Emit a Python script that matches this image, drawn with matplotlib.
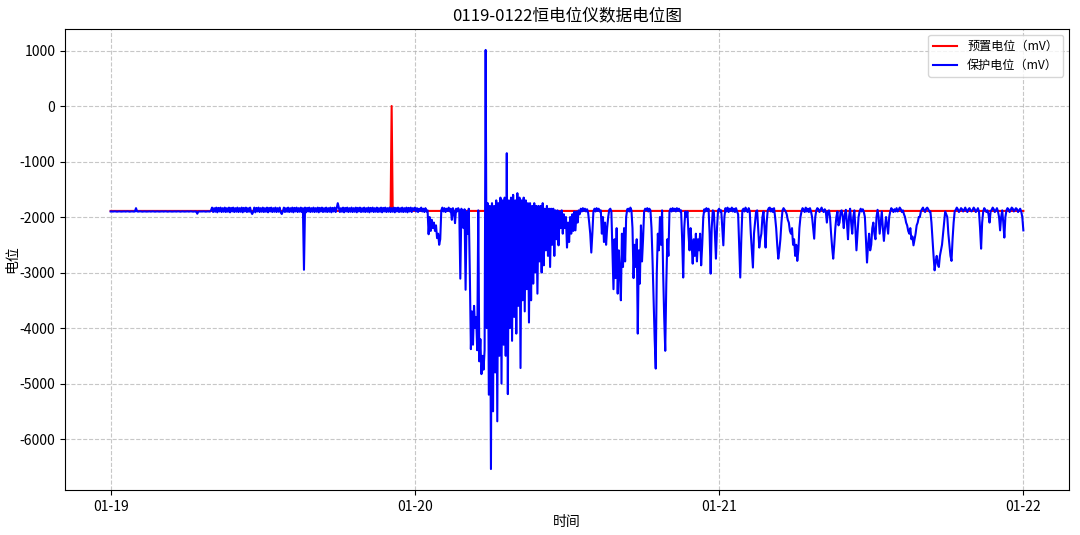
import numpy as np
import pandas as pd
import matplotlib
matplotlib.use("Agg")
import matplotlib.pyplot as plt
import matplotlib.dates as mdates

plt.rcParams['font.family'] = ['Noto Sans CJK SC', 'DejaVu Sans']
plt.rcParams['axes.unicode_minus'] = False

title = "0119-0122恒电位仪数据电位图"
xlabel = "时间"
ylabel = "电位"
label_preset = "预置电位（mV）"
label_protect = "保护电位（mV）"

day1_start = "2024-01-19 00:00"
day2_start = "2024-01-20 00:00"
day3_start = "2024-01-21 00:00"
sample_step = "5min"

# protection potential (mV), 01-19, 5-minute samples (one row = one hour)
protect_day1 = [
    -1900, -1898, -1902, -1900, -1897, -1900, -1903, -1900, -1898, -1900, -1902, -1900,
    -1900, -1898, -1902, -1900, -1897, -1900, -1903, -1900, -1898, -1900, -1902, -1900,
    -1840, -1898, -1902, -1900, -1897, -1900, -1903, -1900, -1898, -1900, -1902, -1900,
    -1900, -1898, -1902, -1900, -1897, -1900, -1903, -1900, -1898, -1900, -1902, -1900,
    -1900, -1898, -1902, -1900, -1897, -1900, -1903, -1900, -1898, -1900, -1902, -1900,
    -1900, -1898, -1902, -1900, -1897, -1900, -1903, -1900, -1898, -1900, -1902, -1900,
    -1900, -1898, -1902, -1900, -1897, -1900, -1903, -1900, -1898, -1900, -1940, -1900,
    -1900, -1898, -1902, -1900, -1897, -1900, -1903, -1900, -1898, -1900, -1902, -1880,
    -1830, -1910, -1840, -1905, -1830, -1915, -1835, -1900, -1830, -1910, -1840, -1905,
    -1830, -1910, -1840, -1905, -1830, -1915, -1835, -1900, -1830, -1910, -1840, -1905,
    -1830, -1910, -1840, -1905, -1830, -1915, -1835, -1900, -1830, -1910, -1840, -1905,
    -1830, -1910, -1945, -1905, -1830, -1915, -1835, -1900, -1830, -1910, -1840, -1905,
    -1830, -1910, -1840, -1905, -1830, -1915, -1835, -1900, -1830, -1910, -1840, -1905,
    -1830, -1910, -1840, -1905, -1830, -1915, -1945, -1900, -1830, -1910, -1840, -1905,
    -1830, -1910, -1840, -1905, -1830, -1915, -1835, -1900, -1830, -1910, -1840, -1905,
    -1830, -1910, -1840, -2950, -1830, -1915, -1835, -1900, -1830, -1910, -1840, -1905,
    -1830, -1910, -1840, -1905, -1830, -1915, -1835, -1900, -1830, -1910, -1840, -1905,
    -1830, -1910, -1840, -1905, -1830, -1915, -1835, -1900, -1830, -1910, -1840, -1750,
    -1830, -1910, -1840, -1905, -1830, -1915, -1835, -1900, -1830, -1910, -1840, -1905,
    -1830, -1910, -1840, -1905, -1830, -1915, -1835, -1900, -1830, -1910, -1840, -1905,
    -1830, -1910, -1840, -1905, -1830, -1915, -1835, -1900, -1830, -1910, -1840, -1905,
    -1830, -1910, -1840, -1905, -1830, -1915, -1835, -1900, -1830, -1910, -1840, -1905,
    -1830, -1910, -1840, -1905, -1830, -1915, -1835, -1900, -1830, -1910, -1840, -1905,
    -1830, -1910, -1840, -1905, -1830, -1915, -1835, -1900, -1830, -1910, -1840, -1880,
]

# 01-20, 5-minute samples
protect_day2 = [
    -1830, -1900, -1840, -1910, -1850, -1890, -1830, -1900, -1850, -1910, -1840, -1900,
    -1880, -2310, -2000, -2250, -2050, -2200, -2100, -2250, -2150, -2380, -2300, -2500,
    -2400, -1880, -1830, -1900, -1840, -1910, -1850, -1890, -1830, -1900, -1850, -2050,
    -1840, -1900, -2110, -1850, -1900, -1840, -1880, -3110, -1850, -1900, -2200, -1860,
    -3310, -1900, -2300, -1850, -3000, -4380, -3700, -4300, -3600, -4000, -3800, -4400,
    -1880, -4600, -4200, -4830, -4500, -4750, -4400, 1010, -4000, -1750, -5200, -1800,
    -6540, -1750, -5500, -1800, -4800, -1700, -5680, -1750, -4500, -1650, -5000, -1700,
    -4300, -1650, -4500, -850, -5190, -1700, -4000, -1650, -4230, -1600, -3800, -1700,
    -4100, -1570, -3600, -1650, -4720, -1700, -3500, -1650, -3700, -1700, -3300, -1750,
    -3900, -1750, -3500, -1800, -3200, -1750, -3000, -1800, -3380, -1800, -2800, -1800,
    -3000, -1750, -2870, -1850, -2600, -1800, -2700, -1850, -2900, -1850, -2500, -1850,
    -2700, -1880, -2400, -1880, -2510, -1900, -2200, -1880, -2300, -1950, -2200, -2000,
    -2550, -2100, -2450, -2000, -2300, -1950, -2250, -1900, -2240, -1900, -2100, -1880,
    -1950, -1850, -1900, -1840, -1890, -1850, -1900, -1860, -1920, -2100, -2300, -2640,
    -2300, -1900, -1850, -1900, -1840, -1890, -1850, -1900, -1880, -2300, -2000, -2450,
    -2100, -2500, -2200, -2000, -1870, -1850, -1900, -2600, -3300, -2400, -3100, -2200,
    -3380, -2600, -3000, -3500, -2300, -2900, -2200, -2800, -2000, -1860, -1850, -1900,
    -1830, -1880, -2200, -3100, -2500, -2900, -2400, -4100, -2600, -3200, -2150, -2800,
    -2400, -1900, -1850, -1880, -1840, -1900, -1850, -1880, -2200, -2800, -3500, -4200,
    -4730, -3000, -2300, -2600, -2000, -2500, -1880, -3000, -3800, -4410, -3200, -2400,
    -2700, -1900, -1850, -1900, -1840, -1890, -1850, -1900, -1840, -1890, -1850, -1900,
    -1880, -2400, -3090, -2200, -1900, -2000, -1900, -2300, -2600, -2200, -2500, -2840,
    -2400, -2700, -2300, -2800, -2400, -2600, -2300, -2870, -2500, -2000, -1860, -1900,
    -1840, -1890, -1850, -2300, -3020, -2200, -1880, -1900, -2300, -2750, -2200, -1880,
]

# 01-21, 5-minute samples, plus the last sample at 01-22 00:00
protect_day3 = [
    -1850, -1900, -1880, -2200, -2510, -2000, -1840, -1900, -1830, -1910, -1850, -1890,
    -1830, -1900, -1850, -1910, -1840, -1900, -1950, -2500, -3090, -2400, -1880, -1850,
    -1900, -1830, -1880, -1910, -1840, -1900, -2300, -2600, -2910, -2300, -2100, -1900,
    -1880, -2200, -2550, -2400, -2300, -2000, -1900, -2200, -2550, -2100, -1880, -1840,
    -1830, -1900, -1850, -1910, -1840, -2000, -2200, -2500, -2750, -2600, -2400, -2100,
    -1880, -1840, -1870, -1900, -1950, -2050, -2100, -2250, -2300, -2200, -2500, -2400,
    -2700, -2500, -2790, -2600, -2200, -2000, -1900, -1840, -1870, -1910, -1830, -1900,
    -1850, -1910, -1840, -1900, -2000, -2200, -2390, -2000, -1880, -1840, -1860, -1910,
    -1870, -1830, -1880, -1910, -1860, -1900, -2100, -1900, -1880, -2000, -2300, -2550,
    -2750, -2500, -2200, -2000, -1900, -2150, -2100, -1900, -1880, -2000, -2200, -1950,
    -1870, -2100, -2400, -2000, -1850, -2100, -2300, -2000, -1880, -2200, -2600, -2300,
    -2000, -1900, -1850, -1900, -1860, -1910, -2000, -2400, -2820, -2500, -2300, -2600,
    -2500, -2200, -2100, -2300, -2400, -2000, -1870, -2000, -2300, -2100, -1900, -2200,
    -2430, -2200, -2000, -2150, -2300, -2000, -1900, -1840, -1870, -1910, -1860, -1900,
    -1840, -1900, -1870, -1830, -1860, -1910, -1880, -1950, -2000, -2100, -2150, -2250,
    -2300, -2200, -2400, -2350, -2510, -2400, -2300, -2150, -2100, -2000, -2000, -1900,
    -1860, -1830, -1880, -1910, -1850, -1830, -1860, -1900, -1900, -2100, -2400, -2700,
    -2960, -2800, -2700, -2850, -2900, -2700, -2600, -2500, -2300, -2100, -1900, -1950,
    -2000, -2300, -2500, -2700, -2790, -2400, -2100, -1900, -1870, -1830, -1860, -1910,
    -1880, -1840, -1860, -1900, -1870, -1830, -1880, -1910, -1860, -1840, -1880, -1900,
    -1870, -1830, -1860, -1910, -1880, -1840, -1900, -2200, -2570, -2100, -1900, -1840,
    -1870, -1910, -1880, -1950, -2100, -1900, -1870, -1830, -1860, -1910, -1880, -1840,
    -1900, -2000, -2240, -2000, -1880, -2100, -2370, -2000, -1880, -1840, -1860, -1910,
    -1870, -1830, -1850, -1900, -1870, -1840, -1860, -1910, -1880, -1850, -1900, -2000,
    -2240,
]

preset_level = -1890
preset_spike_time = "2024-01-19 22:10"
preset_spike_value = 0

times = (pd.date_range(day1_start, periods=len(protect_day1), freq=sample_step)
         .append(pd.date_range(day2_start, periods=len(protect_day2), freq=sample_step))
         .append(pd.date_range(day3_start, periods=len(protect_day3), freq=sample_step)))
protect = np.array(protect_day1 + protect_day2 + protect_day3, dtype=float)
preset = np.full(len(protect), preset_level, dtype=float)
preset[times.get_indexer([pd.Timestamp(preset_spike_time)], method="nearest")[0]] = preset_spike_value

fig = plt.figure(figsize=(10.8, 5.35), dpi=100)
ax = fig.add_axes([0.0602, 0.0841, 0.9296, 0.8617])

ax.plot(times, preset, color="red", linewidth=1.5, label=label_preset)
ax.plot(times, protect, color="blue", linewidth=1.5, label=label_protect)

ax.set_title(title, fontsize=12)
ax.set_xlabel(xlabel, fontsize=10, labelpad=1)
ax.set_ylabel(ylabel, fontsize=10, labelpad=0)
ax.grid(True, linestyle="--", alpha=0.7)
ax.xaxis.set_major_locator(mdates.DayLocator())
ax.xaxis.set_major_formatter(mdates.DateFormatter("%m-%d"))
ax.tick_params(labelsize=10)
ax.legend(loc="upper right", fontsize=8.7)

fig.savefig("out.png", dpi=100)
